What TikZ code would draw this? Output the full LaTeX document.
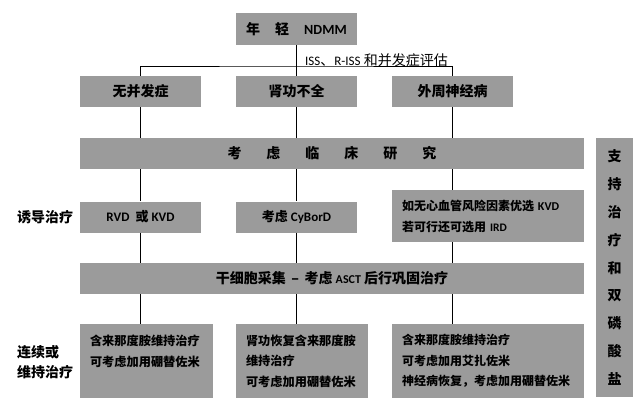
\documentclass[tikz,border=0pt]{standalone}
\usepackage{fontspec}
\setmainfont{Noto Sans CJK SC}
\newfontfamily\lat{Carlito}
\definecolor{boxgray}{RGB}{155,155,155}
\begin{document}
\begin{tikzpicture}[x=1pt,y=-1pt,
  box/.style={fill=boxgray, inner sep=0pt, font=\bfseries\fontsize{14}{16}\selectfont},
  lbox/.style={box, align=left, inner xsep=10pt},
  conn/.style={draw=black, line width=0.8pt},
  side/.style={font=\bfseries\fontsize{14}{20}\selectfont, inner sep=0pt}]
\useasboundingbox (0,0) rectangle (641,407);
\fill[white] (0,0) rectangle (641,407);

% top
\node[box, minimum width=121pt, minimum height=32pt] (top) at (296.5,29)
  {年\hspace{15pt}轻\hspace{15pt}{\lat NDMM}};

% second row
\node[box, minimum width=121pt, minimum height=31pt] (b1) at (140.5,91.5) {无并发症};
\node[box, minimum width=121pt, minimum height=31pt] (b2) at (296.5,91.5) {肾功不全};
\node[box, minimum width=121pt, minimum height=31pt] (b3) at (452.5,91.5) {外周神经病};

\coordinate (split) at (296.5,66);
\node[anchor=west, inner sep=0pt, font=\fontsize{14}{16}\selectfont] (eval) at (305,60)
  {{\lat\fontsize{13}{16}\selectfont ISS}、{\lat\fontsize{13}{16}\selectfont R-ISS} 和并发症评估};

% band 1
\node[box, minimum width=504pt, minimum height=31pt] (band1) at (332,153.5)
  {考\hspace{25pt}虑\hspace{25pt}临\hspace{25pt}床\hspace{25pt}研\hspace{25pt}究\hspace{71pt}};

% induction
\node[box, minimum width=121pt, minimum height=31pt, font=\bfseries\fontsize{13}{16}\selectfont] (i1) at (140.5,217)
  {{\lat RVD}\hspace{6pt}或 {\lat KVD}};
\node[box, minimum width=121pt, minimum height=31pt, font=\bfseries\fontsize{13}{16}\selectfont] (i2) at (296.5,217)
  {考虑 {\lat CyBorD}};
\node[lbox, text width=172pt, minimum height=52pt, font=\bfseries\fontsize{12}{21}\selectfont] (i3) at (488,216)
  {如无心血管风险因素优选 {\lat KVD}\\若可行还可选用 {\lat\fontsize{11.5}{21}\selectfont IRD}};

% band 2
\node[box, minimum width=504pt, minimum height=31pt] (band2) at (332,278.5)
  {干细胞采集 \,–\, 考虑 {\lat\fontsize{12}{16}\selectfont ASCT} 后行巩固治疗\hspace{74pt}};

% maintenance
\node[lbox, text width=113pt, minimum height=74pt, font=\bfseries\fontsize{12.2}{20.5}\selectfont] (m1) at (146.5,361)
  {含来那度胺维持治疗\\可考虑加用硼替佐米\\\mbox{}};
\node[lbox, text width=112pt, minimum height=74pt, font=\bfseries\fontsize{12.2}{20.5}\selectfont] (m2) at (302,361)
  {肾功恢复含来那度胺\\维持治疗\\可考虑加用硼替佐米};
\node[box, align=left, inner xsep=10pt, text width=172pt, minimum height=74pt, font=\bfseries\fontsize{12}{20.5}\selectfont] (m3) at (488,361)
  {含来那度胺维持治疗\\可考虑加用艾扎佐米\\神经病恢复，考虑加用硼替佐米};

% support column
\node[box, minimum width=37pt, minimum height=259pt] (sup) at (614.5,267.5)
  {\raisebox{-7.5pt}{\fontsize{14}{27.8}\selectfont\begin{tabular}{@{}c@{}}支\\持\\治\\疗\\和\\双\\磷\\酸\\盐\end{tabular}}};

% side labels
\node[side, anchor=center] (lind) at (45,217) {诱导治疗};
\node[side, anchor=west, align=left] (lmaint) at (17,362) {连续或\\维持治疗};

% connectors
\draw[conn] (top.south) -- (b2.north);
\draw[conn] (b1.north) |- (split) -| (b3.north);
\draw[conn] (b1.south) -- (b1.south |- band1.north);
\draw[conn] (b2.south) -- (b2.south |- band1.north);
\draw[conn] (b3.south) -- (b3.south |- band1.north);
\draw[conn] (b1.south |- band1.south) -- (i1.north);
\draw[conn] (b2.south |- band1.south) -- (i2.north);
\draw[conn] (b3.south |- band1.south) -- (b3.south |- i3.north);
\draw[conn] (i1.south) -- (i1.south |- band2.north);
\draw[conn] (i2.south) -- (i2.south |- band2.north);
\draw[conn] (b3.south |- i3.south) -- (b3.south |- band2.north);
\draw[conn] (i1.south |- band2.south) -- (i1.south |- m1.north);
\draw[conn] (i2.south |- band2.south) -- (i2.south |- m2.north);
\draw[conn] (b3.south |- band2.south) -- (b3.south |- m3.north);
\end{tikzpicture}
\end{document}
